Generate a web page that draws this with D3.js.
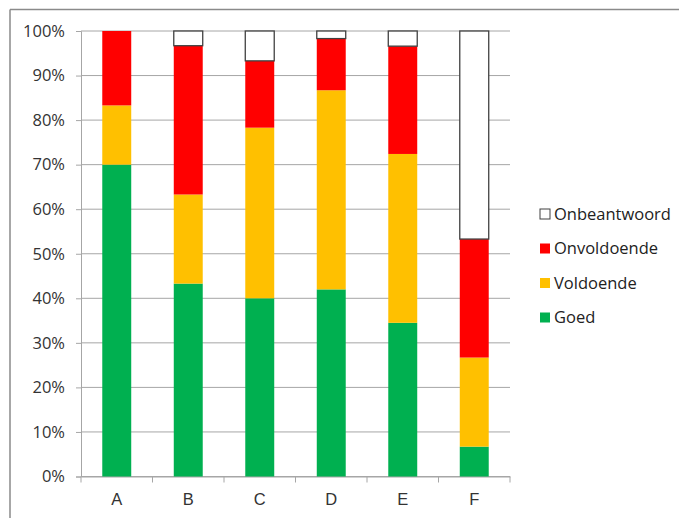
<!DOCTYPE html>
<html>
<head>
<meta charset="utf-8">
<script src="https://cdn.jsdelivr.net/npm/d3@7"></script>
<style>
  body { margin: 0; background: #fff; }
  svg { display: block; font-family: "Open Sans", "Liberation Sans", sans-serif; }
</style>
</head>
<body>
<svg id="chart" width="679" height="518"></svg>
<script>
// categories + percentages per answer
var categories = ["A", "B", "C", "D", "E", "F"];
var series = ["Goed", "Voldoende", "Onvoldoende", "Onbeantwoord"];
var goed         = [70.0, 43.3, 40.0, 42.0, 34.5, 6.7];
var voldoende    = [13.3, 20.0, 38.3, 44.7, 37.9, 20.0];
var onvoldoende  = [16.7, 33.4, 15.0, 11.6, 24.2, 26.6];
var onbeantwoord = [0.0, 3.3, 6.7, 1.7, 3.4, 46.7];
var colors = ["#00b050", "#ffc000", "#ff0000", "#ffffff"];
var yTicks = [0, 10, 20, 30, 40, 50, 60, 70, 80, 90, 100];

var rows = categories.map(function(c, i) {
  return { cat: c, Goed: goed[i], Voldoende: voldoende[i], Onvoldoende: onvoldoende[i], Onbeantwoord: onbeantwoord[i] };
});

var svg = d3.select("#chart");
var plotL = 81, plotR = 510, plotT = 31, plotB = 476.5;

// outer frame (only top + left visible)
svg.append("line").attr("x1", 10).attr("x2", 679).attr("y1", 9.5).attr("y2", 9.5)
  .attr("stroke", "#8a8a8a").attr("stroke-width", 1.5);
svg.append("line").attr("x1", 10).attr("x2", 10).attr("y1", 9.5).attr("y2", 518)
  .attr("stroke", "#8a8a8a").attr("stroke-width", 1.5);

var x = d3.scaleBand().domain(categories).range([plotL, plotR]).paddingInner(0.595).paddingOuter(0.2975);
var y = d3.scaleLinear().domain([0, 100]).range([plotB, plotT]);

// gridlines
svg.append("g").selectAll("line").data(yTicks).join("line")
  .attr("x1", plotL).attr("x2", plotR)
  .attr("y1", function(d) { return y(d); }).attr("y2", function(d) { return y(d); })
  .attr("stroke", "#a6a6a6").attr("stroke-width", 1);

// y axis
var yAxis = svg.append("g").attr("transform", "translate(" + plotL + ",0)")
  .call(d3.axisLeft(y).tickValues(yTicks).tickSize(5).tickPadding(11).tickFormat(function(d) { return d + "%"; }));
yAxis.select(".domain").attr("stroke", "#a6a6a6");
yAxis.selectAll(".tick line").attr("stroke", "#a6a6a6");
yAxis.selectAll("text").attr("font-size", 16.5).attr("fill", "#333").attr("font-family", "Open Sans, sans-serif");

// x axis with ticks between categories
var xAxis = svg.append("g").attr("transform", "translate(0," + plotB + ")")
  .call(d3.axisBottom(x).tickSize(0).tickPadding(17));
xAxis.select(".domain").attr("stroke", "#a6a6a6");
xAxis.selectAll("text").attr("font-size", 16.5).attr("fill", "#333");
var step = (plotR - plotL) / categories.length;
xAxis.append("g").selectAll("line").data(d3.range(categories.length + 1)).join("line")
  .attr("x1", function(i) { return plotL + i * step; }).attr("x2", function(i) { return plotL + i * step; })
  .attr("y1", 0).attr("y2", 6).attr("stroke", "#a6a6a6");

// stacked bars
var stack = d3.stack().keys(series)(rows);
svg.append("g").selectAll("g").data(stack).join("g")
  .attr("fill", function(d, i) { return colors[i]; })
  .attr("stroke", function(d) { return d.key === "Onbeantwoord" ? "#404040" : "none"; })
  .attr("stroke-width", 1.3)
  .selectAll("rect").data(function(d) { return d.filter(function(p) { return p[1] - p[0] > 0; }); }).join("rect")
  .attr("x", function(d) { return x(d.data.cat); })
  .attr("width", x.bandwidth())
  .attr("y", function(d) { return y(d[1]); })
  .attr("height", function(d) { return y(d[0]) - y(d[1]); });

// legend (reverse order)
var legendSeries = series.slice().reverse();
var lg = svg.append("g").selectAll("g").data(legendSeries).join("g")
  .attr("transform", function(d, i) { return "translate(540," + (214 + i * 34.5) + ")"; });
lg.append("rect").attr("x", 0).attr("y", -5).attr("width", 10).attr("height", 10)
  .attr("fill", function(d) { return colors[series.indexOf(d)]; })
  .attr("stroke", function(d) { return d === "Onbeantwoord" ? "#404040" : "none"; })
  .attr("stroke-width", 1);
lg.append("text").attr("x", 14).attr("y", 0).attr("dy", "0.35em")
  .attr("font-size", 16.5).attr("fill", "#222").text(function(d) { return d; });
</script>
</body>
</html>
